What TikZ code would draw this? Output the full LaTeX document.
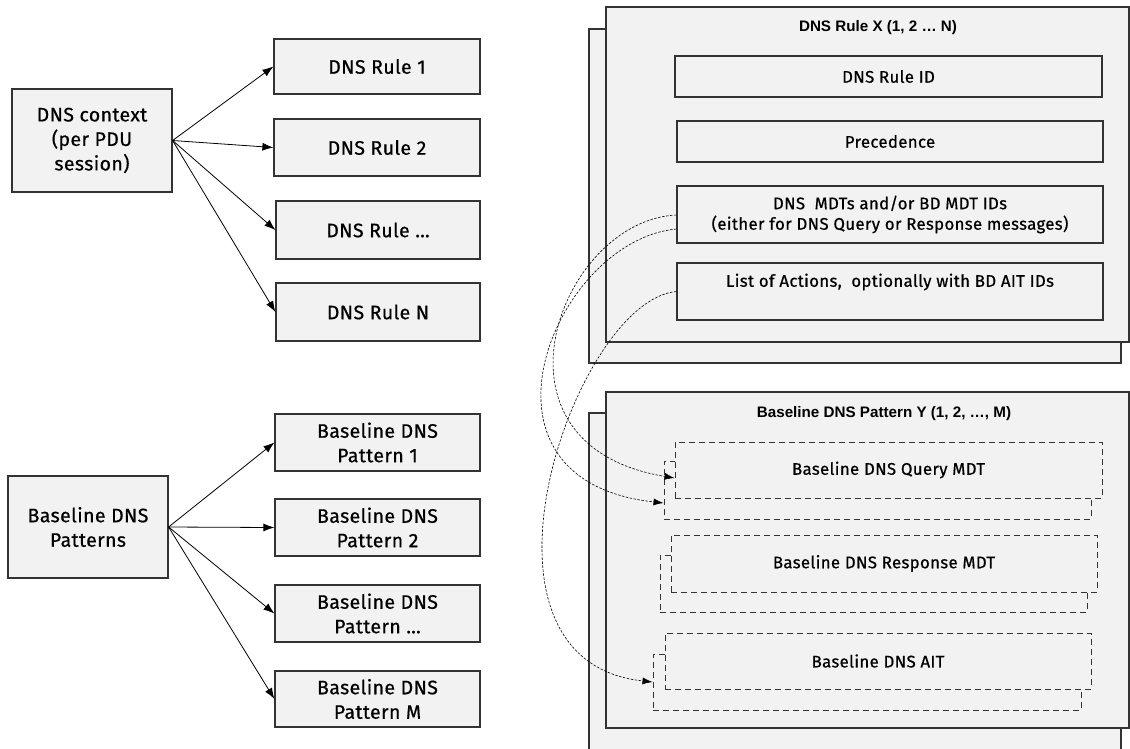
\documentclass[tikz,border=0pt]{standalone}
\usepackage{fontspec}
\setmainfont{Fira Sans}[FakeBold=0.6, LetterSpace=2]
\newfontfamily\titlefont{Liberation Sans}
\usetikzlibrary{arrows.meta}
\definecolor{boxfill}{HTML}{F2F2F2}
\definecolor{edge}{HTML}{333333}
\tikzset{
 box/.style={draw=edge, line width=1.2pt, fill=boxfill, inner sep=0pt, align=center, font=\fontsize{19.5}{24.5}\selectfont},
 ibox/.style={draw=edge, line width=1.1pt, fill=boxfill, inner sep=0pt, align=center, font=\fontsize{16.8}{20.5}\selectfont},
 itext/.style={inner sep=0pt, align=center, font=\fontsize{16.8}{20.5}\selectfont},
 panel/.style={draw=edge, line width=1.1pt, fill=boxfill, inner sep=0pt},
 dbox/.style={draw=edge, line width=1pt, dash pattern=on 6pt off 4pt, fill=boxfill, inner sep=0pt, align=center, font=\fontsize{16.8}{20.5}\selectfont},
 ptitle/.style={inner sep=0pt, font=\titlefont\bfseries\fontsize{15.2}{18}\selectfont},
 conn/.style={line width=0.8pt, -{Latex[length=11pt,width=8pt]}},
 link/.style={line width=0.6pt, dash pattern=on 2.5pt off 1.5pt, -{Latex[length=10pt,width=7pt]}},
}
\begin{document}
\begin{tikzpicture}[x=1pt,y=-1pt]
\useasboundingbox (0,0) rectangle (1130,748);
\clip (0,0) rectangle (1130,748);
% left column: DNS rules
\node[box, minimum width=160pt, minimum height=103pt] (ctx) at (92,140.5) {DNS context\\(per PDU\\session)};
\node[box, minimum width=206pt, minimum height=55pt] (r1) at (377,66.5) {DNS Rule 1};
\node[box, minimum width=206pt, minimum height=57pt] (r2) at (377,147.5) {DNS Rule 2};
\node[box, minimum width=204pt, minimum height=58pt] (r3) at (378,230) {DNS Rule \dots};
\node[box, minimum width=204pt, minimum height=58pt] (rN) at (378,312) {DNS Rule N};
\foreach \t in {r1,r2,r3,rN} \draw[conn] (ctx.east) -- (\t.west);
% left column: baseline patterns
\node[box, minimum width=160pt, minimum height=102pt] (bp) at (88,527) {Baseline DNS\\Patterns};
\node[box, minimum width=205pt, minimum height=57pt] (p1) at (377.5,442.5) {Baseline DNS\\Pattern 1};
\node[box, minimum width=205pt, minimum height=57pt] (p2) at (377.5,527.5) {Baseline DNS\\Pattern 2};
\node[box, minimum width=205pt, minimum height=57pt] (p3) at (377.5,613.5) {Baseline DNS\\Pattern \dots};
\node[box, minimum width=205pt, minimum height=56pt] (pM) at (377.5,699) {Baseline DNS\\Pattern M};
\foreach \t in {p1,p2,p3,pM} \draw[conn] (bp.east) -- (\t.west);
% right top panel
\node[panel, minimum width=532pt, minimum height=334pt] (rxback) at (855,196) {};
\node[panel, minimum width=523pt, minimum height=335pt] (rxfront) at (867.5,174.5) {};
\node[ptitle] (rxtitle) at (878,28) {DNS Rule X (1, 2 \dots\ N)};
\node[ibox, minimum width=427pt, minimum height=41pt] (ruleid) at (888.5,76.5) {DNS Rule ID};
\node[ibox, minimum width=426pt, minimum height=41pt] (prec) at (890,141.5) {Precedence};
\node[ibox, minimum width=426pt, minimum height=57pt] (mdts) at (890,214.5) {DNS~~MDTs and/or BD MDT IDs\\(either for DNS Query or Response messages)};
\node[ibox, minimum width=426pt, minimum height=57pt] (actions) at (890,291.5) {};
\node[itext] (actionstext) at (890,282) {List of Actions,~~optionally with BD AIT IDs};
% right bottom panel
\node[panel, minimum width=532pt, minimum height=360pt] (pyback) at (855,593) {};
\node[panel, minimum width=523pt, minimum height=336pt] (pyfront) at (867.5,560) {};
\node[ptitle] (pytitle) at (884,414) {Baseline DNS Pattern Y (1, 2, \dots, M)};
\node[dbox, minimum width=427pt, minimum height=58pt] (qback) at (877.5,490) {};
\node[dbox, minimum width=427pt, minimum height=56pt] (qfront) at (888.5,470) {Baseline DNS Query MDT};
\node[dbox, minimum width=427pt, minimum height=57pt] (rback) at (873.5,583.5) {};
\node[dbox, minimum width=426pt, minimum height=57pt] (rfront) at (884,563.5) {Baseline DNS Response MDT};
\node[dbox, minimum width=428pt, minimum height=56pt] (aback) at (867,682) {};
\node[dbox, minimum width=426pt, minimum height=56pt] (afront) at (878,661) {Baseline DNS AIT};
% dashed links
\draw[link] ([yshift=-0.5pt]mdts.west) .. controls (560,220) and (475,445) .. ([yshift=-8pt]qfront.west);
\draw[link] ([yshift=-14.5pt]mdts.west) .. controls (555,240) and (455,480) .. ([yshift=-13pt]qback.west);
\draw[link] (actions.west) .. controls (575,300) and (450,660) .. (aback.west);
\end{tikzpicture}
\end{document}
